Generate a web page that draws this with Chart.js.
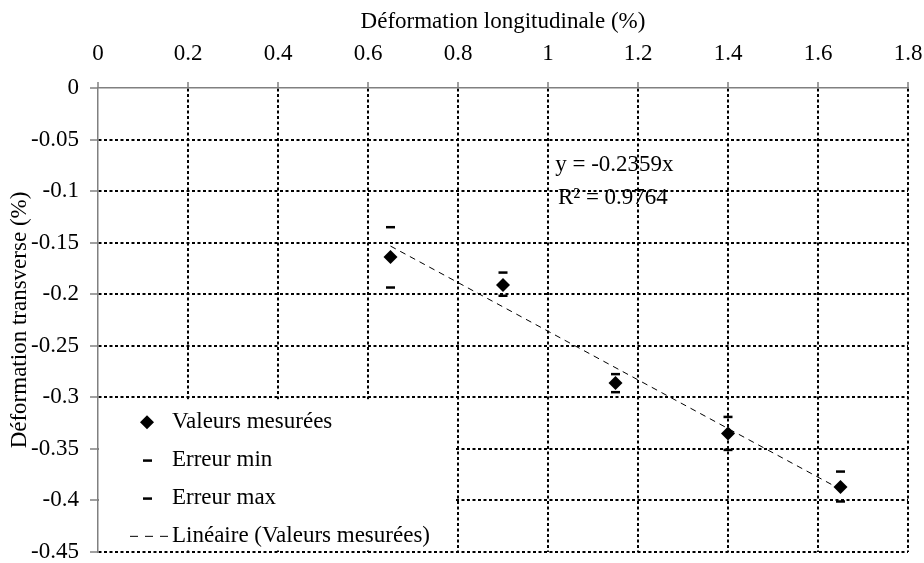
<!DOCTYPE html>
<html>
<head>
<meta charset="utf-8">
<script src="https://cdn.jsdelivr.net/npm/chart.js@4"></script>
<style>
  html, body { margin: 0; padding: 0; background: #fff; }
</style>
</head>
<body>
<canvas id="chart" width="924" height="563"></canvas>
<script>
// data
const xValues = [0.65, 0.9, 1.15, 1.4, 1.65];
const measured = [-0.164, -0.191, -0.286, -0.335, -0.387];
const errorMin = [-0.1935, -0.2015, -0.295, -0.351, -0.401];
const errorMax = [-0.135, -0.179, -0.2775, -0.319, -0.372];
const trendX = [0.65, 1.65];
const trendY = [-0.1533, -0.3892];
const xTicks = [0, 0.2, 0.4, 0.6, 0.8, 1, 1.2, 1.4, 1.6, 1.8];
const yTicks = [0, -0.05, -0.1, -0.15, -0.2, -0.25, -0.3, -0.35, -0.4, -0.45];
const equationText = "y = -0.2359x";
const r2Text = "R\u00b2 = 0.9764";

const FONT = "'Liberation Serif', 'Times New Roman', serif";
const AXIS_GREY = "#808080";

const toPoints = (xs, ys) => xs.map((x, i) => ({ x: x, y: ys[i] }));

// legend box + trendline equation, drawn on top of the grid
const overlayPlugin = {
  id: "overlay",
  afterDraw(chart) {
    const ctx = chart.ctx;
    const area = chart.chartArea;
    const xs = chart.scales.x;
    const ys = chart.scales.y;

    ctx.save();
    ctx.font = "23px " + FONT;
    ctx.fillStyle = "#000";
    ctx.textBaseline = "middle";
    ctx.textAlign = "left";
    ctx.fillText(equationText, xs.getPixelForValue(1.016), ys.getPixelForValue(-0.0746));
    ctx.fillText(r2Text, xs.getPixelForValue(1.022), ys.getPixelForValue(-0.1066));

    // legend
    const left = area.left + 1;
    const top = ys.getPixelForValue(-0.3) + 2;
    const right = xs.getPixelForValue(0.8) - 2;
    const bottom = area.bottom - 2;
    ctx.fillStyle = "#fff";
    ctx.fillRect(left, top, right - left, bottom - top);

    const symX = 147;
    const textX = 172;
    chart.data.datasets.forEach((ds, i) => {
      const cy = top + 23 + i * 38;
      ctx.fillStyle = "#000";
      ctx.strokeStyle = "#000";
      if (ds.kind === "diamond") {
        const r = 7;
        ctx.beginPath();
        ctx.moveTo(symX, cy - r);
        ctx.lineTo(symX + r, cy);
        ctx.lineTo(symX, cy + r);
        ctx.lineTo(symX - r, cy);
        ctx.closePath();
        ctx.fill();
      } else if (ds.kind === "dash") {
        ctx.fillRect(symX - 4, cy - 1, 9, 2.5);
      } else {
        ctx.lineWidth = 1;
        ctx.setLineDash([8, 7]);
        ctx.beginPath();
        ctx.moveTo(130, cy);
        ctx.lineTo(168, cy);
        ctx.stroke();
        ctx.setLineDash([]);
      }
      ctx.fillStyle = "#000";
      ctx.fillText(ds.label, textX, cy);
    });
    ctx.restore();
  },
};

new Chart(document.getElementById("chart"), {
  type: "scatter",
  data: {
    datasets: [
      {
        label: "Valeurs mesurées",
        kind: "diamond",
        data: toPoints(xValues, measured),
        pointStyle: "rectRot",
        pointRadius: 7,
        backgroundColor: "#000",
        borderColor: "#000",
        borderWidth: 0,
        order: 1,
      },
      {
        label: "Erreur min",
        kind: "dash",
        data: toPoints(xValues, errorMin),
        pointStyle: "line",
        pointRadius: 4.5,
        borderColor: "#000",
        borderWidth: 2.5,
        order: 2,
      },
      {
        label: "Erreur max",
        kind: "dash",
        data: toPoints(xValues, errorMax),
        pointStyle: "line",
        pointRadius: 4.5,
        borderColor: "#000",
        borderWidth: 2.5,
        order: 3,
      },
      {
        label: "Linéaire (Valeurs mesurées)",
        kind: "line",
        type: "line",
        data: toPoints(trendX, trendY),
        showLine: true,
        pointRadius: 0,
        borderColor: "#000",
        borderWidth: 1,
        borderDash: [6, 5],
        fill: false,
        order: 4,
      },
    ],
  },
  options: {
    responsive: false,
    animation: false,
    layout: { padding: { left: 0, top: 0, right: 16, bottom: 11 } },
    plugins: {
      legend: { display: false },
      tooltip: { enabled: false },
    },
    scales: {
      x: {
        type: "linear",
        position: "top",
        min: 0,
        max: 1.8,
        afterBuildTicks: (s) => { s.ticks = xTicks.map((v) => ({ value: v })); },
        afterFit: (s) => { s.height = 88; s.paddingLeft = 0; s.paddingRight = 0; },
        title: {
          display: true,
          text: "Déformation longitudinale (%)",
          color: "#000",
          font: { family: FONT, size: 23 },
          padding: { top: 8, bottom: 0 },
        },
        ticks: {
          color: "#000",
          font: { family: FONT, size: 23 },
          padding: 14,
          maxRotation: 0,
          callback: (v) => String(v),
        },
        grid: {
          color: (c) => (c.tick && c.tick.value === 0 ? "rgba(0,0,0,0)" : "#000"),
          lineWidth: 2,
          tickColor: AXIS_GREY,
          tickWidth: 1.5,
          tickLength: 6,
        },
        border: { color: AXIS_GREY, width: 1.5, dash: [3, 2.5] },
      },
      y: {
        type: "linear",
        position: "left",
        min: -0.45,
        max: 0,
        afterBuildTicks: (s) => { s.ticks = yTicks.slice().reverse().map((v) => ({ value: v })); },
        afterFit: (s) => { s.width = 98; s.paddingTop = 0; s.paddingBottom = 0; },
        title: {
          display: true,
          text: "Déformation transverse (%)",
          color: "#000",
          font: { family: FONT, size: 23 },
          padding: { top: 6, bottom: 0 },
        },
        ticks: {
          color: "#000",
          font: { family: FONT, size: 23 },
          padding: 11,
          callback: (v) => String(v),
        },
        grid: {
          color: (c) => (c.tick && c.tick.value === 0 ? "rgba(0,0,0,0)" : "#000"),
          lineWidth: 2,
          tickColor: AXIS_GREY,
          tickWidth: 1.5,
          tickLength: 8,
        },
        border: { color: AXIS_GREY, width: 1.5, dash: [3, 2.5] },
      },
    },
  },
  plugins: [overlayPlugin],
});
</script>
</body>
</html>
